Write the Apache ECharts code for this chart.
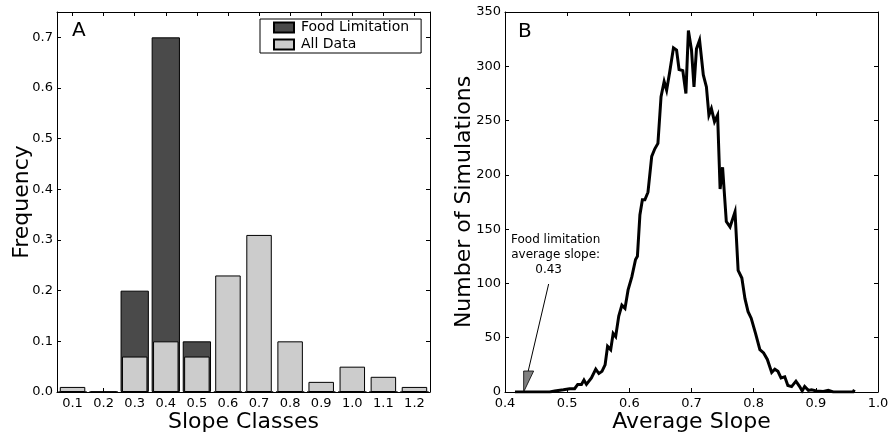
<!DOCTYPE html>
<html><head><meta charset="utf-8">
<script src="https://cdn.jsdelivr.net/npm/echarts@6/dist/echarts.min.js"></script>
<style>html,body{margin:0;padding:0;background:#fff}#c{width:892px;height:437px}</style>
</head><body><div id="c"></div>
<script>
// ---------- data ----------
const categories = ['0.1','0.2','0.3','0.4','0.5','0.6','0.7','0.8','0.9','1.0','1.1','1.2'];
const foodLimitation = [0, 0, 0.2, 0.7, 0.1, 0, 0, 0, 0, 0, 0, 0];
const allData = [0.01, 0, 0.07, 0.1, 0.07, 0.23, 0.31, 0.1, 0.02, 0.05, 0.03, 0.01];

const avgSlope = [0.416,0.472,0.480,0.494,0.504,0.512,0.517,0.523,0.527,0.531,0.539,0.546,0.551,0.556,0.561,0.565,0.570,0.574,0.578,0.583,0.588,0.593,0.598,0.604,0.610,0.613,0.617,0.621,0.625,0.630,0.636,0.641,0.646,0.651,0.656,0.660,0.665,0.671,0.676,0.680,0.686,0.691,0.695,0.700,0.704,0.708,0.713,0.719,0.724,0.728,0.732,0.737,0.742,0.746,0.750,0.756,0.762,0.770,0.775,0.781,0.786,0.791,0.796,0.803,0.810,0.816,0.822,0.829,0.834,0.839,0.844,0.850,0.855,0.861,0.868,0.874,0.878,0.882,0.888,0.893,0.901,0.912,0.920,0.928,0.960,0.962];
const numSims = [0,0,1,2,3,3,7,7,11,7,13,21,17,19,25,42,39,54,51,70,80,77,94,106,122,125,163,177,177,184,217,224,229,272,286,278,295,317,315,297,296,275,333,315,281,316,324,292,281,255,261,249,255,187,207,157,152,166,112,105,86,74,68,54,39,36,30,18,21,19,13,14,6,5,10,5,1,5,1.5,2,1,0.5,1.5,0,0,2];

const foodSlope = 0.43;
const annotationLines = ['Food limitation', 'average slope:', '0.43'];

// ---------- chart ----------
const FONT = 'DejaVu Sans';
const chart = echarts.init(document.getElementById('c'));
const lineBlack = { show: true, onZero: false, lineStyle: { color: '#000', width: 1 } };
const tickIn = { show: true, inside: true, length: 4, lineStyle: { color: '#000', width: 1 } };
const lbl = { color: '#000', fontFamily: FONT, fontSize: 13 };
const nameStyle = { color: '#000', fontFamily: FONT, fontSize: 22 };
const fix1 = v => v.toFixed(1);

const option = {
  animation: false,
  backgroundColor: '#fff',
  grid: [
    { left: 57, top: 12, width: 373, height: 380, outerBoundsMode: 'none', containLabel: false },
    { left: 505, top: 12, width: 373, height: 380, outerBoundsMode: 'none', containLabel: false }
  ],
  legend: {
    data: ['Food Limitation', 'All Data'],
    orient: 'vertical', left: 260, top: 19, icon: 'rect',
    itemWidth: 20, itemHeight: 10, itemGap: 2,
    padding: [1, 12, 1, 13],
    borderColor: '#000', borderWidth: 1, backgroundColor: '#fff',
    textStyle: { color: '#000', fontFamily: FONT, fontSize: 14, lineHeight: 15, padding: [0, 0, 0, 2] }
  },
  xAxis: [
    { type: 'category', gridIndex: 0, position: 'bottom', data: categories,
      axisLine: lineBlack, axisTick: Object.assign({ alignWithLabel: true }, tickIn),
      axisLabel: Object.assign({ margin: 5 }, lbl), splitLine: { show: false },
      name: 'Slope Classes', nameLocation: 'middle', nameGap: 19, nameMoveOverlap: false, nameTextStyle: nameStyle },
    { type: 'category', gridIndex: 0, position: 'top', data: categories,
      axisLine: lineBlack, axisTick: Object.assign({ alignWithLabel: true }, tickIn),
      axisLabel: { show: false }, splitLine: { show: false } },
    { type: 'value', gridIndex: 1, position: 'bottom', min: 0.4, max: 1.0, interval: 0.1,
      axisLine: lineBlack, axisTick: tickIn,
      axisLabel: Object.assign({ margin: 5, formatter: fix1 }, lbl), splitLine: { show: false },
      name: 'Average Slope', nameLocation: 'middle', nameGap: 19, nameMoveOverlap: false, nameTextStyle: nameStyle },
    { type: 'value', gridIndex: 1, position: 'top', min: 0.4, max: 1.0, interval: 0.1,
      axisLine: lineBlack, axisTick: tickIn, axisLabel: { show: false }, splitLine: { show: false } }
  ],
  yAxis: [
    { type: 'value', gridIndex: 0, position: 'left', min: 0, max: 0.75, interval: 0.1,
      axisLine: lineBlack, axisTick: tickIn,
      axisLabel: Object.assign({ margin: 4, formatter: fix1, showMaxLabel: false }, lbl), splitLine: { show: false },
      name: 'Frequency', nameLocation: 'middle', nameGap: 24, nameMoveOverlap: false, nameTextStyle: nameStyle },
    { type: 'value', gridIndex: 0, position: 'right', min: 0, max: 0.75, interval: 0.1,
      axisLine: lineBlack, axisTick: tickIn, axisLabel: { show: false }, splitLine: { show: false } },
    { type: 'value', gridIndex: 1, position: 'left', min: 0, max: 350, interval: 50,
      axisLine: lineBlack, axisTick: tickIn,
      axisLabel: Object.assign({ margin: 4 }, lbl), splitLine: { show: false },
      name: 'Number of Simulations', nameLocation: 'middle', nameGap: 30, nameMoveOverlap: false, nameTextStyle: nameStyle },
    { type: 'value', gridIndex: 1, position: 'right', min: 0, max: 350, interval: 50,
      axisLine: lineBlack, axisTick: tickIn, axisLabel: { show: false }, splitLine: { show: false } }
  ],
  series: [
    { name: 'Food Limitation', type: 'bar', xAxisIndex: 0, yAxisIndex: 0, barWidth: '91%',
      data: foodLimitation, z: 2,
      itemStyle: { color: '#4a4a4a', borderColor: '#000', borderWidth: 1 } },
    { name: 'All Data', type: 'bar', xAxisIndex: 1, yAxisIndex: 0, barWidth: '82%',
      data: allData, z: 3,
      itemStyle: { color: '#cccccc', borderColor: '#000', borderWidth: 1 } },
    { name: 'Simulations', type: 'line', xAxisIndex: 2, yAxisIndex: 2, symbol: 'none',
      data: avgSlope.map((x, i) => [x, numSims[i]]), z: 4,
      lineStyle: { color: '#000', width: 3, join: 'miter', miterLimit: 10 } }
  ]
};
chart.setOption(option);

// annotation anchored at the food-limitation slope on panel B
const tip = chart.convertToPixel({ gridIndex: 1 }, [foodSlope, 0]);
const annStyle = { fill: '#000', font: '12px "DejaVu Sans"', textAlign: 'center', textVerticalAlign: 'middle' };
chart.setOption({
  graphic: [
    { type: 'text', left: 72, top: 21, style: { text: 'A', fill: '#000', font: '20px "DejaVu Sans"' } },
    { type: 'text', left: 518, top: 22, style: { text: 'B', fill: '#000', font: '20px "DejaVu Sans"' } },
    { type: 'text', x: tip[0] + 32, y: tip[1] - 152, style: Object.assign({ text: annotationLines[0] }, annStyle) },
    { type: 'text', x: tip[0] + 32, y: tip[1] - 137, style: Object.assign({ text: annotationLines[1] }, annStyle) },
    { type: 'text', x: tip[0] + 25, y: tip[1] - 122, style: Object.assign({ text: annotationLines[2] }, annStyle) },
    { type: 'line', shape: { x1: tip[0] + 25, y1: tip[1] - 108, x2: tip[0] + 2, y2: tip[1] - 10 },
      style: { stroke: '#000', lineWidth: 1 }, z: 10 },
    { type: 'polygon', shape: { points: [[tip[0], tip[1]], [tip[0], tip[1] - 21], [tip[0] + 10, tip[1] - 21]] },
      style: { fill: '#808080', stroke: '#000', lineWidth: 0.8 }, z: 10 }
  ]
});
</script>
</body></html>
